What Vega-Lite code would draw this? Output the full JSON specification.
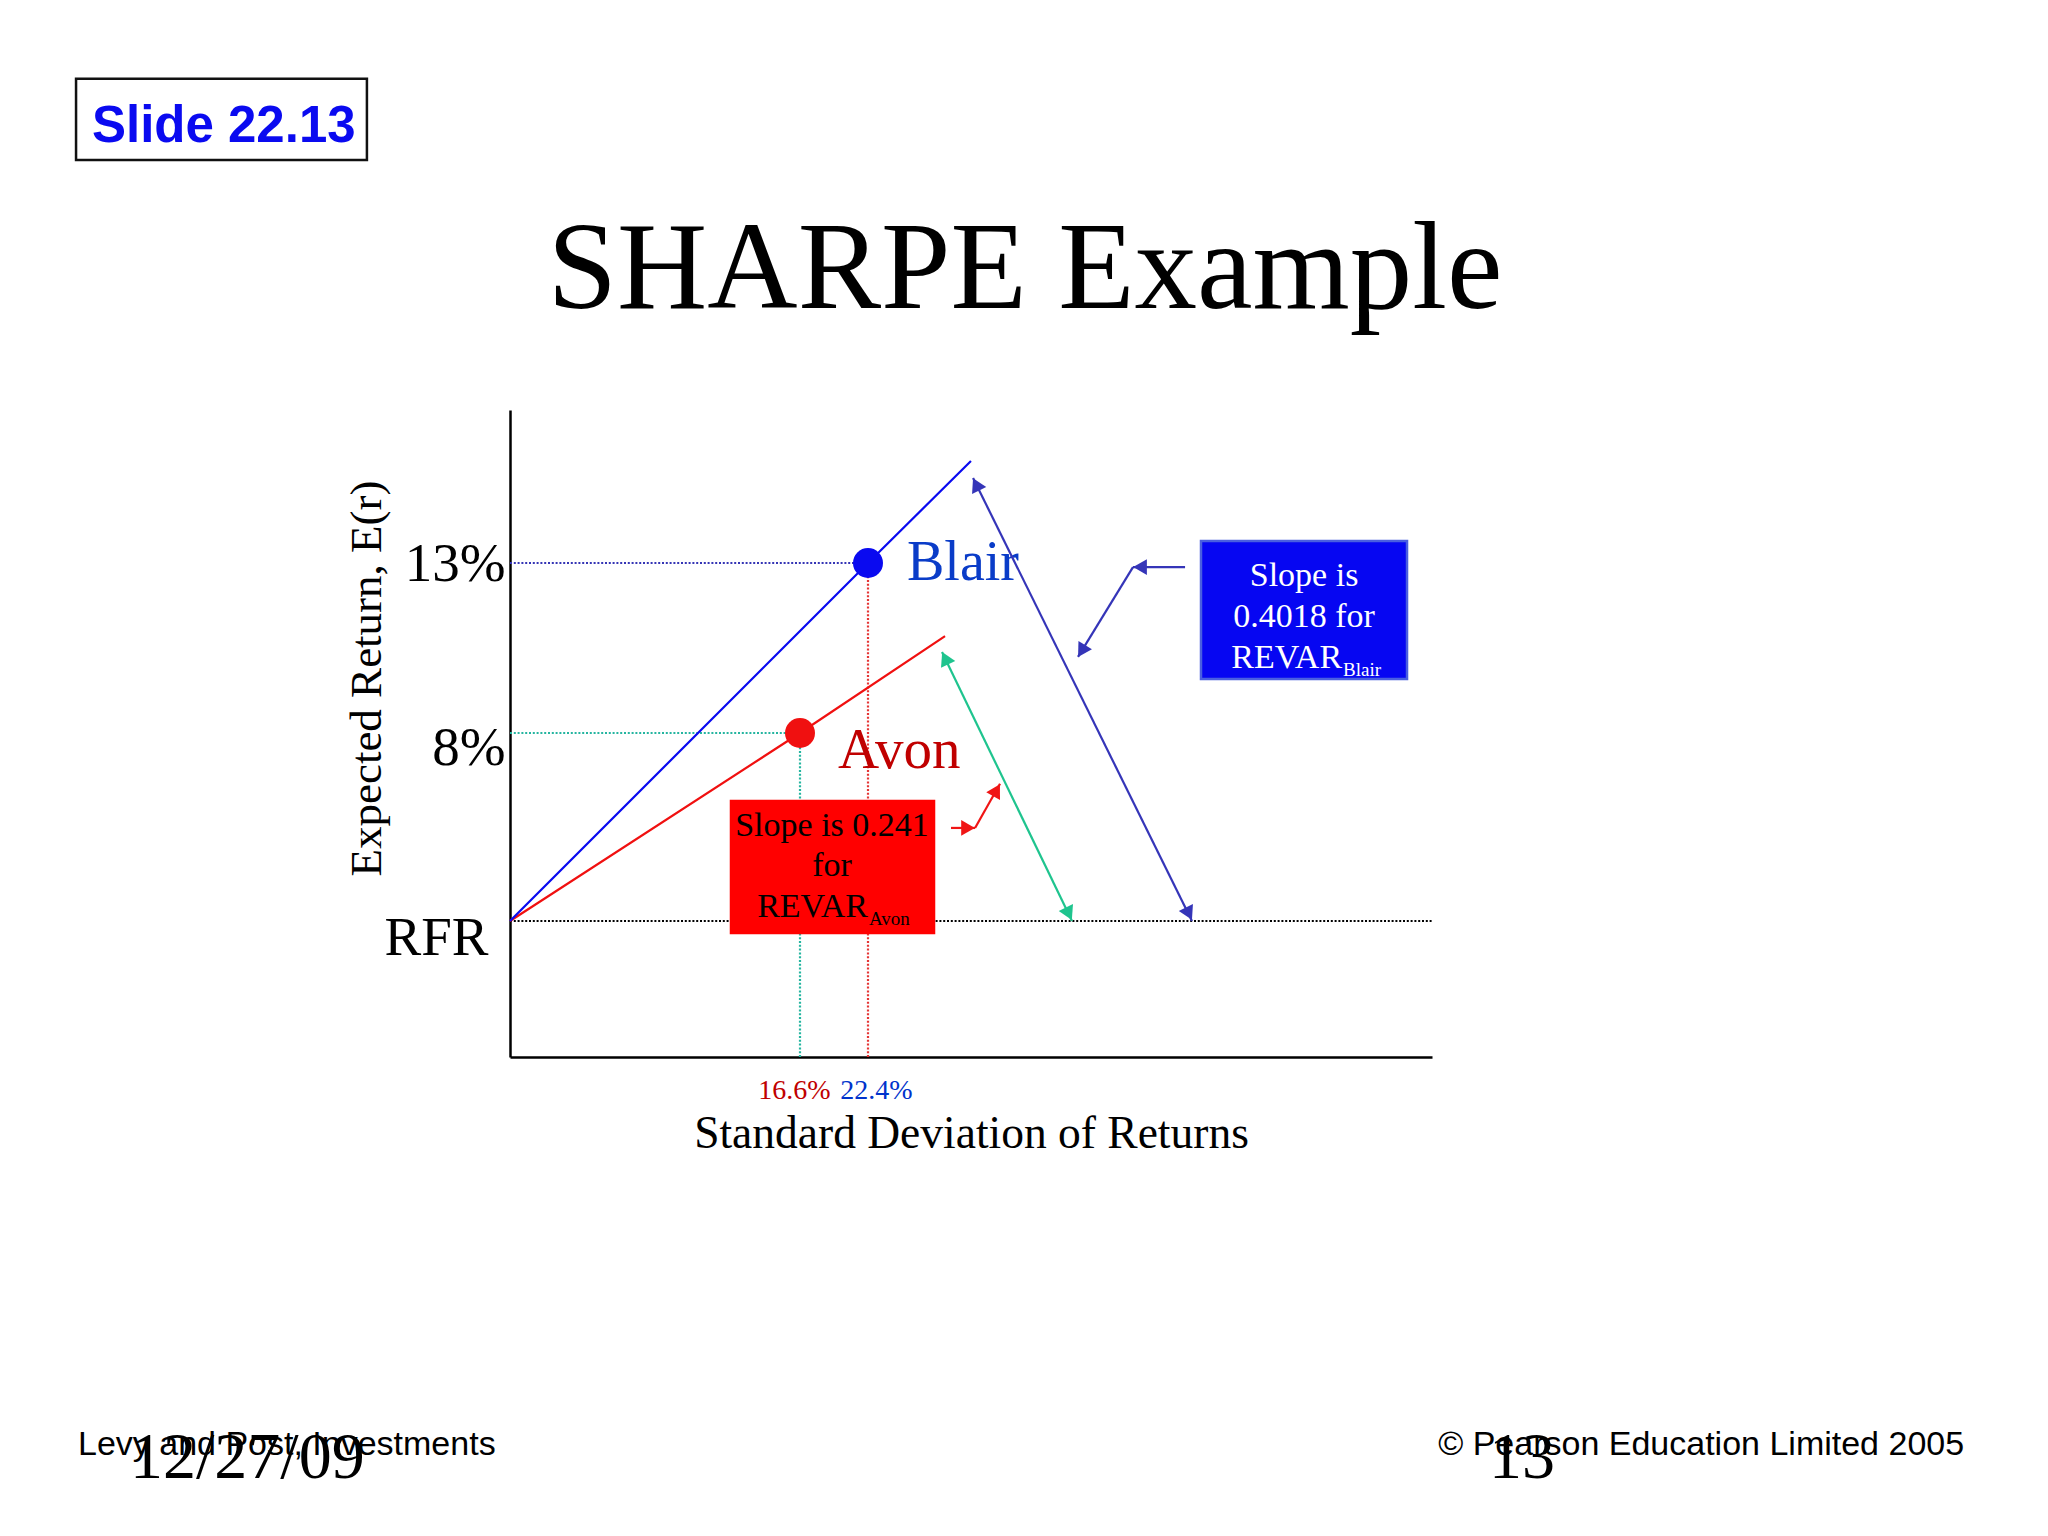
{
  "$schema": "https://vega.github.io/schema/vega-lite/v6.json",
  "width": 922,
  "height": 647,
  "autosize": {"type": "none"},
  "padding": {"left": 510, "top": 410, "right": 616, "bottom": 479},
  "background": "white",
  "config": {"view": {"stroke": null}},
  "datasets": {
    "assets": [
      {"name": "Avon", "sd": 16.6, "ret": 8, "revar": 0.241},
      {"name": "Blair", "sd": 22.4, "ret": 13, "revar": 0.4018}
    ],
    "guides": [
      {"line": "RFR", "sd": 0, "ret": 4, "sd2": 70.5, "ret2": 4},
      {"line": "Blair level", "sd": 0, "ret": 13, "sd2": 22.4, "ret2": 13},
      {"line": "Blair sd", "sd": 22.4, "ret": 0, "sd2": 22.4, "ret2": 13},
      {"line": "Avon level", "sd": 0, "ret": 8, "sd2": 16.6, "ret2": 8},
      {"line": "Avon sd", "sd": 16.6, "ret": 0, "sd2": 16.6, "ret2": 8}
    ],
    "cml": [
      {"name": "Avon", "sd": 0, "ret": 4},
      {"name": "Avon", "sd": 16.6, "ret": 8},
      {"name": "Avon", "sd": 28.97, "ret": 10.85},
      {"name": "Blair", "sd": 0, "ret": 4},
      {"name": "Blair", "sd": 22.4, "ret": 13},
      {"name": "Blair", "sd": 31.18, "ret": 16.0}
    ],
    "arrows": [
      {"kind": "Blair", "sd": 31.36, "ret": 15.5, "sd2": 50.03, "ret2": 4},
      {"kind": "Avon", "sd": 28.71, "ret": 10.38, "sd2": 39.8, "ret2": 4},
      {"kind": "BlairNote", "sd": 49.44, "ret": 12.88, "sd2": 45.0, "ret2": 12.88},
      {"kind": "BlairNote", "sd": 45.0, "ret": 12.88, "sd2": 40.31, "ret2": 10.24},
      {"kind": "AvonNote", "sd": 29.48, "ret": 5.98, "sd2": 31.53, "ret2": 5.98},
      {"kind": "AvonNote", "sd": 31.53, "ret": 5.98, "sd2": 33.66, "ret2": 6.92}
    ],
    "heads": [
      {"kind": "Blair", "sd": 31.62, "ret": 15.31, "angle": 333.6},
      {"kind": "Blair", "sd": 49.77, "ret": 4.155, "angle": 153.6},
      {"kind": "Avon", "sd": 28.98, "ret": 10.2, "angle": 334.2},
      {"kind": "Avon", "sd": 39.53, "ret": 4.155, "angle": 154.2},
      {"kind": "BlairNote", "sd": 45.6, "ret": 12.88, "angle": 270},
      {"kind": "BlairNote", "sd": 40.62, "ret": 10.41, "angle": 211.4},
      {"kind": "AvonNote", "sd": 30.93, "ret": 5.98, "angle": 90},
      {"kind": "AvonNote", "sd": 33.36, "ret": 6.785, "angle": 29.6}
    ],
    "boxes": [
      {"box": "Blair note", "sd": 50.8, "ret": 13.65, "sd2": 68.37, "ret2": 9.59},
      {"box": "Avon note", "sd": 12.65, "ret": 6.553, "sd2": 28.03, "ret2": 3.647},
      {"box": "Slide", "sd": -24.84, "ret": 27.24, "sd2": -8.19, "ret2": 24.85}
    ],
    "notes": [
      {"id": "b1", "text": "Slope is", "sd": 59.59, "ret": 12.32},
      {"id": "b2", "text": "0.4018 for", "sd": 59.59, "ret": 11.118},
      {"id": "a1", "text": "Slope is 0.241", "sd": 19.33, "ret": 5.81},
      {"id": "a2", "text": "for", "sd": 19.33, "ret": 4.957},
      {"id": "bR", "text": "REVAR", "sd": 62.83, "ret": 9.91},
      {"id": "aR", "text": "REVAR", "sd": 22.4, "ret": 4.085},
      {"id": "bS", "text": "Blair", "sd": 62.91, "ret": 9.68},
      {"id": "aS", "text": "Avon", "sd": 22.49, "ret": 3.882},
      {"id": "title", "text": "SHARPE Example", "sd": 35.79, "ret": 20.5},
      {"id": "slide", "text": "Slide 22.13", "sd": -23.93, "ret": 25.38},
      {"id": "fL", "text": "Levy and Post, Investments", "sd": -24.73, "ret": -11.71},
      {"id": "fR", "text": "© Pearson Education Limited 2005", "sd": 115.88, "ret": -11.71},
      {"id": "date", "text": "12/27/09", "sd": -21.75, "ret": -12.38},
      {"id": "page", "text": "13", "sd": 78.18, "ret": -12.38}
    ]
  },
  "layer": [
    {
      "data": {"name": "assets"},
      "mark": {"type": "point", "shape": "circle", "filled": true, "opacity": 0, "size": 10},
      "encoding": {
        "x": {
          "field": "sd", "type": "quantitative",
          "scale": {"type": "linear", "domain": [0, 16.6, 22.4, 70.5], "range": [0, 290, 358, 922], "nice": false, "zero": false},
          "axis": {
            "values": [16.6, 22.4],
            "labelExpr": "datum.value + '%'",
            "ticks": false,
            "grid": false,
            "domainColor": "black",
            "domainWidth": 2.5,
            "labelFont": "Liberation Serif",
            "labelFontSize": 28,
            "labelColor": {"condition": {"test": "datum.value < 20", "value": "#C00000"}, "value": "#0033CC"},
            "labelOffset": {"condition": {"test": "datum.value < 20", "value": -6}, "value": 8},
            "labelPadding": 41,
            "labelBaseline": "alphabetic",
            "labelOverlap": false,
            "labelFlush": false,
            "title": "Standard Deviation of Returns",
            "titleFont": "Liberation Serif",
            "titleFontSize": 45.5,
            "titleFontWeight": "normal",
            "titleColor": "black",
            "titleX": 461,
            "titleY": 90,
            "titleBaseline": "alphabetic",
            "titleAlign": "center"
          }
        },
        "y": {
          "field": "ret", "type": "quantitative",
          "scale": {"type": "linear", "domain": [0, 4, 8, 13, 17.5], "range": [647, 511, 323, 153, 0], "nice": false, "zero": false},
          "axis": {
            "values": [4, 8, 13],
            "labelExpr": "datum.value === 4 ? 'RFR' : datum.value + '%'",
            "ticks": false,
            "grid": false,
            "domainColor": "black",
            "domainWidth": 2.5,
            "labelFont": "Liberation Serif",
            "labelFontSize": 55,
            "labelColor": "black",
            "labelPadding": {"condition": {"test": "datum.value === 4", "value": 22}, "value": 5},
            "labelOffset": {"condition": [{"test": "datum.value === 13", "value": 0}, {"test": "datum.value === 8", "value": 14}], "value": 16},
            "labelOverlap": false,
            "labelFlush": false,
            "title": "Expected Return, E(r)",
            "titleFont": "Liberation Serif",
            "titleFontSize": 45,
            "titleFontWeight": "normal",
            "titleColor": "black",
            "titleAngle": 270,
            "titleX": -130,
            "titleY": 268,
            "titleBaseline": "alphabetic",
            "titleAlign": "center"
          }
        }
      }
    },
    {
      "data": {"name": "guides"},
      "mark": {"type": "rule", "strokeWidth": 2.2, "strokeDash": [2, 1.8]},
      "encoding": {
        "x": {"field": "sd", "type": "quantitative", "scale": {"type": "linear", "domain": [0, 16.6, 22.4, 70.5], "range": [0, 290, 358, 922], "nice": false, "zero": false}},
        "y": {"field": "ret", "type": "quantitative", "scale": {"type": "linear", "domain": [0, 4, 8, 13, 17.5], "range": [647, 511, 323, 153, 0], "nice": false, "zero": false}},
        "x2": {"field": "sd2"},
        "y2": {"field": "ret2"},
        "color": {"condition": [
          {"test": "datum.line === 'RFR'", "value": "#000000"},
          {"test": "datum.line === 'Blair level'", "value": "#3535B5"},
          {"test": "datum.line === 'Blair sd'", "value": "#E53535"}
        ], "value": "#25B5A0"}
      }
    },
    {
      "data": {"name": "cml"},
      "mark": {"type": "line", "strokeWidth": 2.2},
      "encoding": {
        "x": {"field": "sd", "type": "quantitative", "scale": {"type": "linear", "domain": [0, 16.6, 22.4, 70.5], "range": [0, 290, 358, 922], "nice": false, "zero": false}},
        "y": {"field": "ret", "type": "quantitative", "scale": {"type": "linear", "domain": [0, 4, 8, 13, 17.5], "range": [647, 511, 323, 153, 0], "nice": false, "zero": false}},
        "detail": {"field": "name", "type": "nominal"},
        "color": {"field": "name", "type": "nominal", "scale": {"domain": ["Avon", "Blair"], "range": ["#F01010", "#0A0AF0"]}, "legend": null}
      }
    },
    {
      "data": {"name": "assets"},
      "mark": {"type": "point", "shape": "circle", "filled": true, "opacity": 1, "size": 900},
      "encoding": {
        "x": {"field": "sd", "type": "quantitative", "scale": {"type": "linear", "domain": [0, 16.6, 22.4, 70.5], "range": [0, 290, 358, 922], "nice": false, "zero": false}},
        "y": {"field": "ret", "type": "quantitative", "scale": {"type": "linear", "domain": [0, 4, 8, 13, 17.5], "range": [647, 511, 323, 153, 0], "nice": false, "zero": false}},
        "color": {"field": "name", "type": "nominal", "scale": {"domain": ["Avon", "Blair"], "range": ["#F01010", "#0A0AF0"]}, "legend": null}
      }
    },
    {
      "data": {"name": "assets"},
      "transform": [{"filter": "datum.name === 'Blair'"}],
      "mark": {"type": "text", "align": "left", "baseline": "alphabetic", "dx": 39, "dy": 17, "font": "Liberation Serif", "fontSize": 56, "color": "#0A3CC8"},
      "encoding": {
        "x": {"field": "sd", "type": "quantitative", "scale": {"type": "linear", "domain": [0, 16.6, 22.4, 70.5], "range": [0, 290, 358, 922], "nice": false, "zero": false}},
        "y": {"field": "ret", "type": "quantitative", "scale": {"type": "linear", "domain": [0, 4, 8, 13, 17.5], "range": [647, 511, 323, 153, 0], "nice": false, "zero": false}},
        "text": {"field": "name", "type": "nominal"}
      }
    },
    {
      "data": {"name": "assets"},
      "transform": [{"filter": "datum.name === 'Avon'"}],
      "mark": {"type": "text", "align": "left", "baseline": "alphabetic", "dx": 38, "dy": 35, "font": "Liberation Serif", "fontSize": 57, "color": "#C00000"},
      "encoding": {
        "x": {"field": "sd", "type": "quantitative", "scale": {"type": "linear", "domain": [0, 16.6, 22.4, 70.5], "range": [0, 290, 358, 922], "nice": false, "zero": false}},
        "y": {"field": "ret", "type": "quantitative", "scale": {"type": "linear", "domain": [0, 4, 8, 13, 17.5], "range": [647, 511, 323, 153, 0], "nice": false, "zero": false}},
        "text": {"field": "name", "type": "nominal"}
      }
    },
    {
      "data": {"name": "arrows"},
      "mark": {"type": "rule", "strokeWidth": 2.2},
      "encoding": {
        "x": {"field": "sd", "type": "quantitative", "scale": {"type": "linear", "domain": [0, 16.6, 22.4, 70.5], "range": [0, 290, 358, 922], "nice": false, "zero": false}},
        "y": {"field": "ret", "type": "quantitative", "scale": {"type": "linear", "domain": [0, 4, 8, 13, 17.5], "range": [647, 511, 323, 153, 0], "nice": false, "zero": false}},
        "x2": {"field": "sd2"},
        "y2": {"field": "ret2"},
        "color": {"condition": [
          {"test": "datum.kind === 'Avon'", "value": "#1FC48E"},
          {"test": "datum.kind === 'AvonNote'", "value": "#F01515"}
        ], "value": "#3535B8"}
      }
    },
    {
      "data": {"name": "heads"},
      "mark": {"type": "point", "shape": "triangle-up", "filled": true, "opacity": 1, "size": 250},
      "encoding": {
        "x": {"field": "sd", "type": "quantitative", "scale": {"type": "linear", "domain": [0, 16.6, 22.4, 70.5], "range": [0, 290, 358, 922], "nice": false, "zero": false}},
        "y": {"field": "ret", "type": "quantitative", "scale": {"type": "linear", "domain": [0, 4, 8, 13, 17.5], "range": [647, 511, 323, 153, 0], "nice": false, "zero": false}},
        "angle": {"field": "angle", "type": "quantitative", "scale": {"domain": [0, 360], "range": [0, 360]}},
        "color": {"condition": [
          {"test": "datum.kind === 'Avon'", "value": "#1FC48E"},
          {"test": "datum.kind === 'AvonNote'", "value": "#F01515"}
        ], "value": "#3535B8"}
      }
    },
    {
      "data": {"name": "boxes"},
      "mark": {"type": "rect", "strokeWidth": 2.5},
      "encoding": {
        "x": {"field": "sd", "type": "quantitative", "scale": {"type": "linear", "domain": [0, 16.6, 22.4, 70.5], "range": [0, 290, 358, 922], "nice": false, "zero": false}},
        "y": {"field": "ret", "type": "quantitative", "scale": {"type": "linear", "domain": [0, 4, 8, 13, 17.5], "range": [647, 511, 323, 153, 0], "nice": false, "zero": false}},
        "x2": {"field": "sd2"},
        "y2": {"field": "ret2"},
        "fill": {"condition": [
          {"test": "datum.box === 'Blair note'", "value": "#0606F2"},
          {"test": "datum.box === 'Avon note'", "value": "#FF0000"}
        ], "value": "#FFFFFF"},
        "stroke": {"condition": [
          {"test": "datum.box === 'Blair note'", "value": "#4A5FE0"},
          {"test": "datum.box === 'Avon note'", "value": "#FF0000"}
        ], "value": "#111111"}
      }
    },
    {
      "data": {"name": "notes"},
      "transform": [{"filter": {"field": "id", "oneOf": ["b1", "b2", "a1", "a2"]}}],
      "mark": {"type": "text", "align": "center", "baseline": "alphabetic", "font": "Liberation Serif", "fontSize": 34},
      "encoding": {
        "x": {"field": "sd", "type": "quantitative", "scale": {"type": "linear", "domain": [0, 16.6, 22.4, 70.5], "range": [0, 290, 358, 922], "nice": false, "zero": false}},
        "y": {"field": "ret", "type": "quantitative", "scale": {"type": "linear", "domain": [0, 4, 8, 13, 17.5], "range": [647, 511, 323, 153, 0], "nice": false, "zero": false}},
        "text": {"field": "text", "type": "nominal"},
        "color": {"condition": {"test": "indexof(datum.id, 'b') === 0", "value": "#FFFFFF"}, "value": "#000000"}
      }
    },
    {
      "data": {"name": "notes"},
      "transform": [{"filter": {"field": "id", "oneOf": ["bR", "aR"]}}],
      "mark": {"type": "text", "align": "right", "baseline": "alphabetic", "font": "Liberation Serif", "fontSize": 34},
      "encoding": {
        "x": {"field": "sd", "type": "quantitative", "scale": {"type": "linear", "domain": [0, 16.6, 22.4, 70.5], "range": [0, 290, 358, 922], "nice": false, "zero": false}},
        "y": {"field": "ret", "type": "quantitative", "scale": {"type": "linear", "domain": [0, 4, 8, 13, 17.5], "range": [647, 511, 323, 153, 0], "nice": false, "zero": false}},
        "text": {"field": "text", "type": "nominal"},
        "color": {"condition": {"test": "indexof(datum.id, 'b') === 0", "value": "#FFFFFF"}, "value": "#000000"}
      }
    },
    {
      "data": {"name": "notes"},
      "transform": [{"filter": {"field": "id", "oneOf": ["bS", "aS"]}}],
      "mark": {"type": "text", "align": "left", "baseline": "alphabetic", "font": "Liberation Serif", "fontSize": 19},
      "encoding": {
        "x": {"field": "sd", "type": "quantitative", "scale": {"type": "linear", "domain": [0, 16.6, 22.4, 70.5], "range": [0, 290, 358, 922], "nice": false, "zero": false}},
        "y": {"field": "ret", "type": "quantitative", "scale": {"type": "linear", "domain": [0, 4, 8, 13, 17.5], "range": [647, 511, 323, 153, 0], "nice": false, "zero": false}},
        "text": {"field": "text", "type": "nominal"},
        "color": {"condition": {"test": "indexof(datum.id, 'b') === 0", "value": "#FFFFFF"}, "value": "#000000"}
      }
    },
    {
      "data": {"name": "notes"},
      "transform": [{"filter": {"field": "id", "oneOf": ["title"]}}],
      "mark": {"type": "text", "align": "center", "baseline": "alphabetic", "font": "Liberation Serif", "fontSize": 125, "color": "#000000"},
      "encoding": {
        "x": {"field": "sd", "type": "quantitative", "scale": {"type": "linear", "domain": [0, 16.6, 22.4, 70.5], "range": [0, 290, 358, 922], "nice": false, "zero": false}},
        "y": {"field": "ret", "type": "quantitative", "scale": {"type": "linear", "domain": [0, 4, 8, 13, 17.5], "range": [647, 511, 323, 153, 0], "nice": false, "zero": false}},
        "text": {"field": "text", "type": "nominal"}
      }
    },
    {
      "data": {"name": "notes"},
      "transform": [{"filter": {"field": "id", "oneOf": ["slide"]}}],
      "mark": {"type": "text", "align": "left", "baseline": "alphabetic", "font": "Liberation Sans", "fontWeight": "bold", "fontSize": 51, "color": "#0A0AF0"},
      "encoding": {
        "x": {"field": "sd", "type": "quantitative", "scale": {"type": "linear", "domain": [0, 16.6, 22.4, 70.5], "range": [0, 290, 358, 922], "nice": false, "zero": false}},
        "y": {"field": "ret", "type": "quantitative", "scale": {"type": "linear", "domain": [0, 4, 8, 13, 17.5], "range": [647, 511, 323, 153, 0], "nice": false, "zero": false}},
        "text": {"field": "text", "type": "nominal"}
      }
    },
    {
      "data": {"name": "notes"},
      "transform": [{"filter": {"field": "id", "oneOf": ["fL"]}}],
      "mark": {"type": "text", "align": "left", "baseline": "alphabetic", "font": "Liberation Sans", "fontSize": 34, "color": "#000000"},
      "encoding": {
        "x": {"field": "sd", "type": "quantitative", "scale": {"type": "linear", "domain": [0, 16.6, 22.4, 70.5], "range": [0, 290, 358, 922], "nice": false, "zero": false}},
        "y": {"field": "ret", "type": "quantitative", "scale": {"type": "linear", "domain": [0, 4, 8, 13, 17.5], "range": [647, 511, 323, 153, 0], "nice": false, "zero": false}},
        "text": {"field": "text", "type": "nominal"}
      }
    },
    {
      "data": {"name": "notes"},
      "transform": [{"filter": {"field": "id", "oneOf": ["fR"]}}],
      "mark": {"type": "text", "align": "right", "baseline": "alphabetic", "font": "Liberation Sans", "fontSize": 34, "color": "#000000"},
      "encoding": {
        "x": {"field": "sd", "type": "quantitative", "scale": {"type": "linear", "domain": [0, 16.6, 22.4, 70.5], "range": [0, 290, 358, 922], "nice": false, "zero": false}},
        "y": {"field": "ret", "type": "quantitative", "scale": {"type": "linear", "domain": [0, 4, 8, 13, 17.5], "range": [647, 511, 323, 153, 0], "nice": false, "zero": false}},
        "text": {"field": "text", "type": "nominal"}
      }
    },
    {
      "data": {"name": "notes"},
      "transform": [{"filter": {"field": "id", "oneOf": ["date"]}}],
      "mark": {"type": "text", "align": "left", "baseline": "alphabetic", "font": "Liberation Serif", "fontSize": 66, "color": "#000000"},
      "encoding": {
        "x": {"field": "sd", "type": "quantitative", "scale": {"type": "linear", "domain": [0, 16.6, 22.4, 70.5], "range": [0, 290, 358, 922], "nice": false, "zero": false}},
        "y": {"field": "ret", "type": "quantitative", "scale": {"type": "linear", "domain": [0, 4, 8, 13, 17.5], "range": [647, 511, 323, 153, 0], "nice": false, "zero": false}},
        "text": {"field": "text", "type": "nominal"}
      }
    },
    {
      "data": {"name": "notes"},
      "transform": [{"filter": {"field": "id", "oneOf": ["page"]}}],
      "mark": {"type": "text", "align": "center", "baseline": "alphabetic", "font": "Liberation Serif", "fontSize": 66, "color": "#000000"},
      "encoding": {
        "x": {"field": "sd", "type": "quantitative", "scale": {"type": "linear", "domain": [0, 16.6, 22.4, 70.5], "range": [0, 290, 358, 922], "nice": false, "zero": false}},
        "y": {"field": "ret", "type": "quantitative", "scale": {"type": "linear", "domain": [0, 4, 8, 13, 17.5], "range": [647, 511, 323, 153, 0], "nice": false, "zero": false}},
        "text": {"field": "text", "type": "nominal"}
      }
    }
  ]
}
